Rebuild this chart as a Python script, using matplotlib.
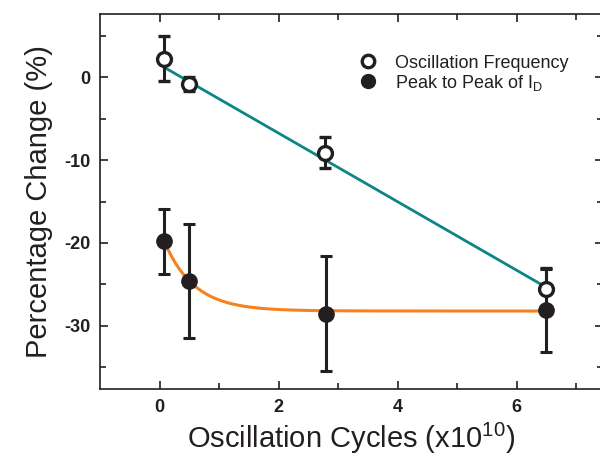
import matplotlib
matplotlib.use("Agg")
import matplotlib.pyplot as plt
from matplotlib.lines import Line2D
import numpy as np

plt.rcParams['font.family'] = ['Liberation Sans', 'DejaVu Sans']
plt.rcParams['mathtext.fontset'] = 'custom'
plt.rcParams['mathtext.rm'] = 'Liberation Sans'
plt.rcParams['mathtext.it'] = 'Liberation Sans'
plt.rcParams['axes.unicode_minus'] = False

INK = '#231f20'

# oscillation frequency (open circles)
freq_x = [0.08, 0.49, 2.78, 6.49]
freq_y = [2.2, -0.85, -9.1, -25.5]
freq_err = [2.7, 0.8, 1.9, 2.5]

# peak to peak of I_D (filled circles)
pp_x = [0.08, 0.49, 2.79, 6.49]
pp_y = [-19.8, -24.6, -28.5, -28.1]
pp_err = [3.9, 6.9, 6.9, 5.0]

# fits
lin_slope, lin_icpt = -4.13, 1.5
exp_base, exp_amp, exp_tau, exp_x0 = -28.2, 8.4, 0.5, 0.08

fig = plt.figure(figsize=(6.0, 4.59), dpi=100)
ax = fig.add_axes([0.1667, 0.1525, 0.838, 0.817])

xf = np.linspace(0.08, 6.49, 200)
ax.plot(xf, lin_icpt + lin_slope * xf, color='#0b8585', lw=2.0, zorder=2)
ax.plot(xf, exp_base + exp_amp * np.exp(-(xf - exp_x0) / exp_tau), color='#f7811f', lw=2.2, zorder=2)

ax.errorbar(pp_x, pp_y, yerr=pp_err, fmt='o', color=INK, ms=11, mfc=INK, mec=INK,
            elinewidth=2.2, capsize=4.5, capthick=2.2, zorder=3)
ax.errorbar(freq_x, freq_y, yerr=freq_err, fmt='o', color=INK, ms=10, mfc='white', mec=INK,
            mew=2.4, elinewidth=2.2, capsize=4.5, capthick=2.2, zorder=4)

ax.set_xlim(-1.0, 7.45)
ax.set_ylim(-37.6, 7.6)
ax.set_xticks([0, 2, 4, 6])
ax.set_xticks([1, 3, 5, 7], minor=True)
ax.set_yticks([0, -10, -20, -30])
ax.set_yticks([5, -5, -15, -25, -35], minor=True)
ax.tick_params(which='both', direction='in', top=True, right=True, color=INK, width=1.2)
ax.tick_params(which='major', length=6, labelsize=13, labelcolor=INK, pad=7)
ax.tick_params(which='minor', length=4)
for lab in ax.get_xticklabels() + ax.get_yticklabels():
    lab.set_fontweight('bold')
for sp in ax.spines.values():
    sp.set_color(INK)
    sp.set_linewidth(1.2)

ax.set_xlabel(r'Oscillation Cycles (x10$^{\mathregular{10}}$)', fontsize=21, color=INK, labelpad=4)
ax.set_ylabel('Percentage Change (%)', fontsize=21, color=INK, labelpad=8)

handles = [
    Line2D([], [], ls='none', marker='o', ms=9, mfc='white', mec=INK, mew=2.4),
    Line2D([], [], ls='none', marker='o', ms=10, mfc=INK, mec=INK),
]
labels = ['Oscillation Frequency', r'Peak to Peak of I$_{\mathregular{D}}$']
leg = ax.legend(handles, labels, loc='upper left', bbox_to_anchor=(0.487, 0.935), frameon=False,
                fontsize=13, handletextpad=1.1, handlelength=0.8, labelspacing=0.05)
for t in leg.get_texts():
    t.set_color(INK)

fig.savefig('out.png', dpi=100)
